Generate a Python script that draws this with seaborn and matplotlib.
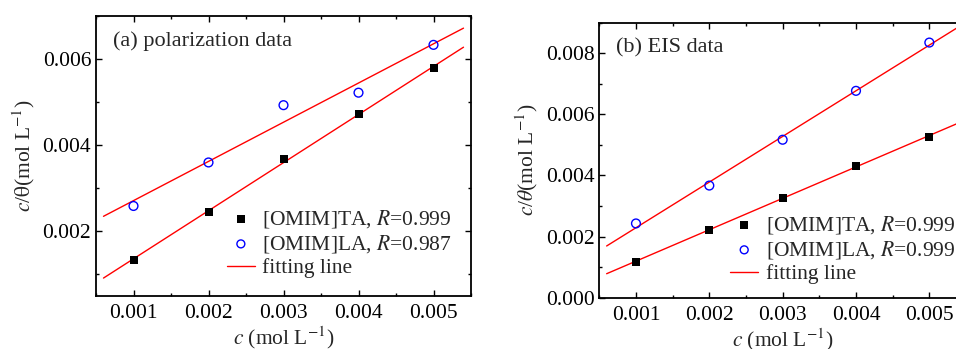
import numpy as np
import pandas as pd
import matplotlib
matplotlib.use("Agg")
import matplotlib.pyplot as plt
import seaborn as sns
from matplotlib.ticker import MultipleLocator, FormatStrFormatter

sns.set_theme(style="ticks")
plt.rcParams['font.family'] = ['Liberation Serif', 'DejaVu Serif']
plt.rcParams['mathtext.fontset'] = 'stix'

conc = [0.001, 0.002, 0.003, 0.004, 0.005]
pol_ta = [0.00134, 0.002455, 0.003676, 0.00472, 0.00579]
pol_la = [0.00259, 0.0036, 0.00493, 0.00522, 0.00633]
eis_ta = [0.00118, 0.00222, 0.00327, 0.00432, 0.00527]
eis_la = [0.00243, 0.00367, 0.00517, 0.00677, 0.00835]
labels_a = ["[OMIM]TA, $R$=0.999", "[OMIM]LA, $R$=0.987", "fitting line"]
labels_b = ["[OMIM]TA, $R$=0.999", "[OMIM]LA, $R$=0.999", "fitting line"]
titles = ["(a) polarization data", "(b) EIS data"]
ylabels = [r"$c$/$\mathrm{\theta}$(mol L$^{-1}$)", r"$c$/$\theta$(mol L$^{-1}$)"]
fit_range = [0.0006, 0.0054]

W, H = 956, 349
fig = plt.figure(figsize=(W / 100, H / 100), dpi=100)
ax1 = fig.add_axes([96 / W, 1 - 296 / H, 375 / W, 280 / H])
ax2 = fig.add_axes([599.3 / W, 1 - 297.7 / H, 366.7 / W, 275 / H])

FS = 15.5

def panel(ax, ta, la, labels, title, ylabel, ylim, ymaj, yfmt, leg_anchor):
    xs = np.array(conc)
    xf = np.array(fit_range)
    for ys in (ta, la):
        p = np.polyfit(xs, ys, 1)
        sns.lineplot(x=xf, y=np.polyval(p, xf), ax=ax, color='red', lw=1.0,
                     label=None, legend=False)
    sns.scatterplot(x=xs, y=ta, ax=ax, marker='s', color='black', s=34,
                    edgecolor='black', linewidth=0, label=labels[0], zorder=3)
    sns.scatterplot(x=xs, y=la, ax=ax, marker='o', facecolor='none',
                    edgecolor='blue', linewidth=1.0, s=40, label=labels[1], zorder=3)
    ax.plot([], [], color='red', lw=1.0, label=labels[2])
    ax.set_xlim(0.0005, 0.0055)
    ax.set_ylim(*ylim)
    ax.xaxis.set_major_locator(MultipleLocator(0.001))
    ax.xaxis.set_minor_locator(MultipleLocator(0.0005))
    ax.yaxis.set_major_locator(MultipleLocator(ymaj))
    ax.yaxis.set_minor_locator(MultipleLocator(ymaj / 2))
    ax.xaxis.set_major_formatter(FormatStrFormatter('%.3f'))
    ax.yaxis.set_major_formatter(FormatStrFormatter(yfmt))
    ax.tick_params(which='both', direction='in', top=True, right=True,
                   labelsize=FS, colors='black', width=1.0)
    ax.tick_params(which='major', length=4)
    ax.tick_params(which='minor', length=2.5)
    ax.tick_params(axis='x', pad=6)
    for s in ax.spines.values():
        s.set_linewidth(1.3)
        s.set_color('black')
    ax.set_xlabel(r"$c$ (mol L$^{-1}$)", fontsize=FS, labelpad=1)
    ax.set_ylabel(ylabel, fontsize=FS, labelpad=4)
    ax.text(0.045, 0.91, title, transform=ax.transAxes, fontsize=FS + 0.5,
            va='center', ha='left')
    handles, labs = ax.get_legend_handles_labels()
    ax.legend(handles, labs, loc='center left', bbox_to_anchor=leg_anchor,
              frameon=False, fontsize=FS, handlelength=1.3, handletextpad=0.35,
              borderpad=0, borderaxespad=0, labelspacing=0.15, markerscale=0.9)

panel(ax1, pol_ta, pol_la, labels_a, titles[0], ylabels[0], (0.0005, 0.007), 0.002, '%.3f', (0.349, 0.189))
panel(ax2, eis_ta, eis_la, labels_b, titles[1], ylabels[1], (0.0, 0.009), 0.002, '%.3f', (0.357, 0.177))

fig.savefig("out.png", dpi=100)
